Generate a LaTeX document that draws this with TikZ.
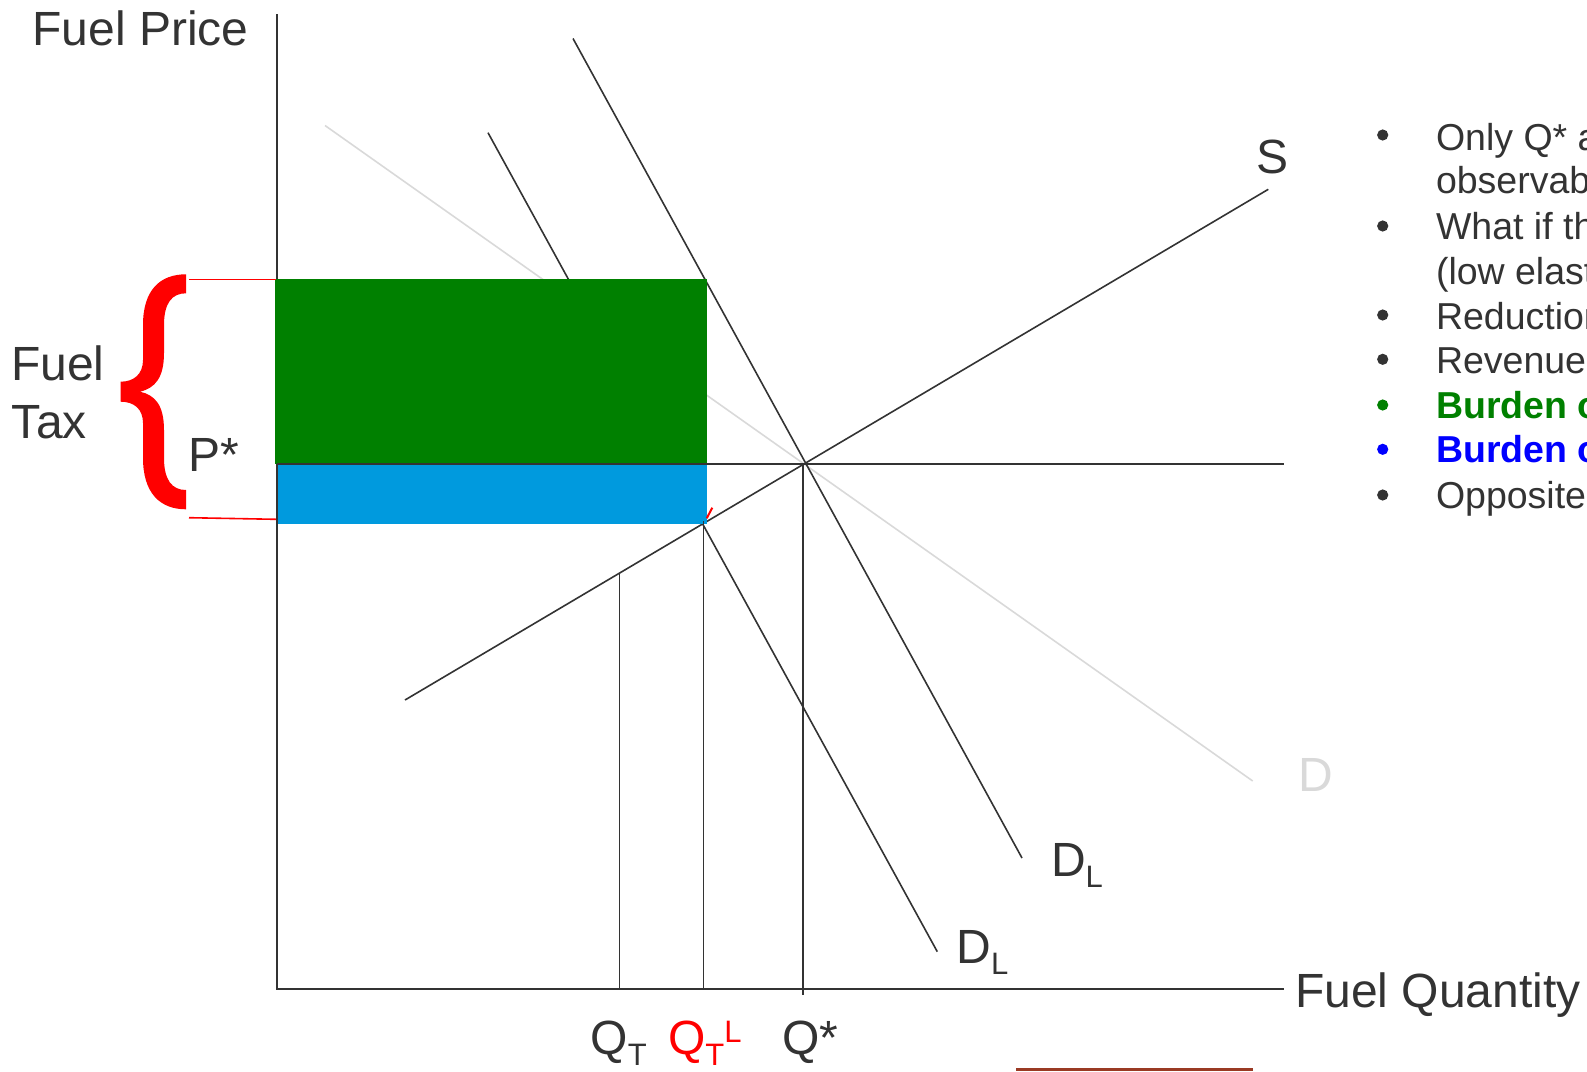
\documentclass[tikz,border=0pt]{standalone}
\usepackage{fontspec}
\setmainfont{Liberation Sans}
\definecolor{txt}{HTML}{333333}
\definecolor{ln}{HTML}{333333}
\definecolor{lgray}{HTML}{D9D9D9}
\definecolor{gfill}{HTML}{008000}
\definecolor{bfill}{HTML}{009ADE}
\definecolor{bblue}{HTML}{0000FF}
\definecolor{brown}{HTML}{9A3A24}
\newcommand\mysub[1]{\raisebox{-11pt}{\fontsize{31}{31}\selectfont #1}}
\newcommand\mysup[1]{\raisebox{12pt}{\fontsize{31}{31}\selectfont #1}}
\tikzset{
  lbl/.style={anchor=base west, inner sep=0pt, outer sep=0pt, text=txt, font=\fontsize{48}{52}\selectfont},
  btxt/.style={anchor=base west, inner sep=0pt, outer sep=0pt, text=txt, font=\fontsize{37.5}{40}\selectfont},
  curveln/.style={draw=ln, line width=1.6pt},
  axisln/.style={draw=ln, line width=2pt},
  redln/.style={draw=red, line width=1.6pt},
}
\begin{document}
\begin{tikzpicture}[x=1pt,y=-1pt]
\useasboundingbox (0,0) rectangle (1587,1071);
\begin{scope}
\clip (0,0) rectangle (1587,1071);
% key coordinates
\coordinate (O) at (276.5,989);
\coordinate (Ytop) at (276.5,14);
\coordinate (Xend) at (1283.5,989);
\coordinate (Pl) at (276.5,463.5);
\coordinate (Pr) at (1283.5,463.5);
\coordinate (S1) at (405,700);
\coordinate (S2) at (1268.3,189.3);
\coordinate (D1) at (325,125.5);
\coordinate (D2) at (1252.7,781);
\coordinate (DLa1) at (573,38.5);
\coordinate (DLa2) at (1022,858);
\coordinate (DLb1) at (488,132.7);
\coordinate (DLb2) at (937.3,951.7);
\coordinate (QTt) at (619.6,573);
\coordinate (QTb) at (619.6,989);
\coordinate (QLt) at (703.4,521);
\coordinate (QLb) at (703.4,989);
\coordinate (Qst) at (802.8,463.5);
\coordinate (Qsb) at (802.8,995);
% demand and supply curves
\draw[draw=lgray, line width=1.6pt] (D1) -- (D2);
\draw[curveln] (DLa1) -- (DLa2);
\draw[curveln] (DLb1) -- (DLb2);
\draw[curveln] (S1) -- (S2);
% axes
\draw[axisln] (Ytop) -- (O) -- (Xend);
% tax rectangles
\fill[gfill] (275,279) rectangle (706.7,463.5);
\fill[bfill] (277.5,463.5) rectangle (706.7,524.3);
% price line and quantity drops
\draw[axisln] (Pl) -- (Pr);
\draw[curveln] (QTt) -- (QTb);
\draw[curveln] (QLt) -- (QLb);
\draw[curveln] (Qst) -- (Qsb);
% small red tick
\coordinate (rt1) at (706.7,518.3);
\coordinate (rt2) at (712.3,507.7);
\draw[draw=red, line width=2pt] (rt1) -- (rt2);
% tax brace and leaders
\coordinate (tl1) at (189,279.3);
\coordinate (tl2) at (276,279.3);
\coordinate (bl1) at (189,517.7);
\coordinate (bl2) at (276,519.3);
\draw[redln] (tl1) -- (tl2);
\draw[redln] (bl1) -- (bl2);
\fill[red] (186,274.3)
  .. controls (160,274.3) and (143,290) .. (143,325)
  -- (143,360)
  .. controls (143,374) and (134,381.7) .. (120.7,381.7)
  -- (120.7,401.7)
  .. controls (134,401.7) and (143,409) .. (143,423)
  -- (143,458)
  .. controls (143,493) and (160,509.3) .. (186,509.3)
  -- (186,490)
  .. controls (172,490) and (164,480) .. (164,458)
  -- (164,430)
  .. controls (164,405) and (155,395) .. (140,391.7)
  .. controls (155,388) and (164,378) .. (164,353)
  -- (164,325)
  .. controls (164,303) and (172,293.3) .. (186,293.3)
  -- cycle;
% labels
\node[lbl] (lfp) at (32.5,45) {Fuel Price};
\node[lbl] (lfuel) at (11,380) {Fuel};
\node[lbl] (ltax) at (12,438.3) {Tax};
\node[lbl] (lp) at (188.5,471.7) {P*};
\node[lbl] (ls) at (1256,173.5) {S};
\node[lbl, text=lgray] (ld) at (1298,791.7) {D};
\node[lbl] (ldl1) at (1051,876.7) {D\mysub{L}};
\node[lbl] (ldl2) at (956.5,963.3) {D\mysub{L}};
\node[lbl] (lqt) at (590.5,1054) {Q\mysub{T}};
\node[lbl, text=red] (lqtl) at (668,1054) {Q\mysub{T}\mysup{L}};
\node[lbl] (lqs) at (782.5,1054) {Q*};
\node[lbl] (lfq) at (1295,1007.3) {Fuel Quantity};
% bullets
\fill[txt] (1382.7,135) circle (5.6);
\fill[txt] (1382.7,226) circle (5.6);
\fill[txt] (1382.7,315) circle (5.6);
\fill[txt] (1382.7,359.3) circle (5.6);
\fill[gfill] (1382.7,405) circle (5.6);
\fill[bblue] (1382.7,449.3) circle (5.6);
\fill[txt] (1382.7,495) circle (5.6);
\node[btxt] (b1) at (1436,150) {Only Q* and};
\node[btxt] (b1b) at (1436,193.3) {observable};
\node[btxt] (b2) at (1436,239.3) {What if the};
\node[btxt] (b2b) at (1436,284) {(low elasticity};
\node[btxt] (b3) at (1436,329.3) {Reduction};
\node[btxt] (b4) at (1436,373.3) {Revenue};
\node[btxt, text=gfill, font=\fontsize{37.5}{40}\selectfont\bfseries] (b5) at (1436,418.3) {Burden on};
\node[btxt, text=bblue, font=\fontsize{37.5}{40}\selectfont\bfseries] (b6) at (1436,462.7) {Burden on};
\node[btxt] (b7) at (1436,508.3) {Opposite};
% bottom line
\coordinate (bb1) at (1016,1069.5);
\coordinate (bb2) at (1253.3,1069.5);
\draw[draw=brown, line width=2.5pt] (bb1) -- (bb2);
\end{scope}
\end{tikzpicture}
\end{document}
